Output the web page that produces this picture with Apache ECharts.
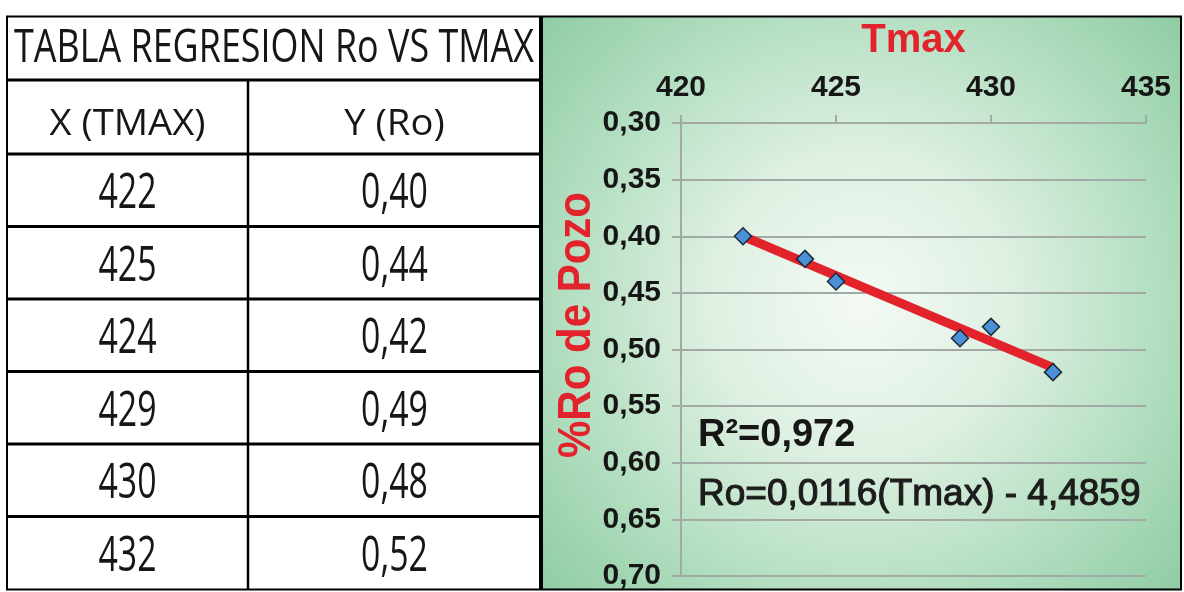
<!DOCTYPE html>
<html>
<head>
<meta charset="utf-8">
<title>Tabla regresion Ro vs Tmax</title>
<script src="https://cdn.jsdelivr.net/npm/echarts@6/dist/echarts.min.js"></script>
<style>
    html, body { margin: 0; padding: 0; background: #fff; }
    #main { width: 1184px; height: 592px; }
</style>
</head>
<body>
<div id="main"></div>
<script>
    // datos de la tabla y del grafico
    var tableTitle = 'TABLA REGRESION Ro VS TMAX';
    var colHeaders = ['X (TMAX)', 'Y (Ro)'];
    var tmax = [422, 425, 424, 429, 430, 432];
    var ro = [0.40, 0.44, 0.42, 0.49, 0.48, 0.52];
    // extremos de la recta de regresion
    var trendTmax = [422, 432];
    var trendRo = [0.400, 0.516];
    var r2Text = 'R²=0,972';
    var eqText = 'Ro=0,0116(Tmax) - 4,4859';
    var xTitle = 'Tmax';
    var yTitle = '%Ro de Pozo';

    function coma(v) {
        return v.toFixed(2).replace('.', ',');
    }

    // ancho real del texto -> factor para comprimirlo como en la imagen
    var ctx = document.createElement('canvas').getContext('2d');
    function squeeze(text, font, w) {
        ctx.font = font;
        return w / ctx.measureText(text).width;
    }

    var red = '#e3232b';
    var ink = '#161616';
    var tblFam = '"Open Sans"';
    var axFam = '"Liberation Sans", Arial, sans-serif';

    // geometria de la tabla
    var tL = 7, tR = 541, tMid = 248, tTop = 16, tBot = 589;
    var titleB = 80, headB = 154, rowH = 72.5;

    var g = [];

    // fondo verde del grafico
    g.push({
        type: 'rect', z: -10, silent: true,
        shape: {x: 541, y: 17, width: 640, height: 572},
        style: {
            fill: new echarts.graphic.RadialGradient(0.5, 0.5, 0.75, [
                {offset: 0, color: '#f4faf5'},
                {offset: 0.35, color: '#def0e2'},
                {offset: 0.75, color: '#acdbbb'},
                {offset: 1, color: '#90cca3'}
            ])
        }
    });

    // marco exterior
    g.push({
        type: 'rect', z: 50, silent: true,
        shape: {x: 7, y: 16.5, width: 1174, height: 573},
        style: {fill: null, stroke: '#000', lineWidth: 2}
    });

    // lineas de la tabla
    var hl = [titleB, headB];
    for (var k = 1; k < tmax.length; k++) hl.push(headB + rowH * k);
    hl.forEach(function (y) {
        g.push({type: 'line', z: 50, silent: true,
            shape: {x1: tL, y1: y, x2: tR, y2: y},
            style: {stroke: '#000', lineWidth: 3}});
    });
    g.push({type: 'line', z: 50, silent: true,
        shape: {x1: tMid, y1: titleB, x2: tMid, y2: tBot},
        style: {stroke: '#000', lineWidth: 2.5}});
    g.push({type: 'line', z: 50, silent: true,
        shape: {x1: tR, y1: tTop, x2: tR, y2: tBot},
        style: {stroke: '#000', lineWidth: 4}});

    // textos de la tabla
    function cell(text, x, y, size, sx) {
        g.push({
            type: 'text', z: 60, silent: true, x: x, y: y, scaleX: sx,
            style: {text: text, fontSize: size, fontFamily: tblFam, fill: ink,
                align: 'center', verticalAlign: 'middle'}
        });
    }
    var titleSx = squeeze(tableTitle, '45px ' + tblFam, 520);
    var headSx = squeeze(colHeaders[0], '36px ' + tblFam, 156);
    var dataSx = squeeze('422', '49px ' + tblFam, 58);
    var c1 = (tL + tMid) / 2, c2 = (tMid + tR) / 2;

    cell(tableTitle, (tL + tR) / 2, 49, 45, titleSx);
    cell(colHeaders[0], c1, 125, 36, headSx);
    cell(colHeaders[1], c2, 125, 36, headSx);
    tmax.forEach(function (x, i) {
        var y = headB + rowH * (i + 0.5) + 4;
        cell(String(x), c1, y, 49, dataSx);
        cell(coma(ro[i]), c2, y, 49, dataSx);
    });

    // titulo eje Y (vertical)
    g.push({
        type: 'text', z: 60, silent: true, x: 577, y: 325,
        rotation: Math.PI / 2,
        scaleX: squeeze(yTitle, 'bold 46px "Liberation Sans"', 266),
        style: {text: yTitle, fontSize: 46, fontWeight: 'bold', fontFamily: axFam,
            fill: red, align: 'center', verticalAlign: 'middle'}
    });

    // R2 y ecuacion
    g.push({
        type: 'text', z: 60, silent: true, x: 698, y: 436,
        style: {text: r2Text, fontSize: 38, fontWeight: 'bold', fontFamily: axFam,
            fill: ink, align: 'left', verticalAlign: 'middle'}
    });
    g.push({
        type: 'text', z: 60, silent: true, x: 698, y: 495,
        style: {text: eqText, fontSize: 37, fontFamily: axFam,
            fill: '#1c1c1c', stroke: '#1c1c1c', lineWidth: 1.1,
            align: 'left', verticalAlign: 'middle'}
    });

    var gridCol = '#a3aaa6';
    var myChart = echarts.init(document.getElementById('main'));
    var option = {
        backgroundColor: '#ffffff',
        animation: false,
        grid: {left: 681, top: 123, width: 465, height: 453},
        xAxis: {
            type: 'value', position: 'top',
            min: 420, max: 435, interval: 5,
            name: xTitle, nameLocation: 'middle', nameGap: 62,
            nameTextStyle: {color: red, fontSize: 40, fontWeight: 'bold', fontFamily: axFam},
            axisLine: {show: true, onZero: false, lineStyle: {color: gridCol, width: 2}},
            axisTick: {show: true, length: 8, lineStyle: {color: gridCol, width: 2}},
            axisLabel: {margin: 20, color: ink, fontSize: 30, fontWeight: 'bold', fontFamily: axFam},
            splitLine: {show: false}
        },
        yAxis: {
            type: 'value', inverse: true,
            min: 0.30, max: 0.70, interval: 0.05,
            axisLine: {show: true, onZero: false, lineStyle: {color: gridCol, width: 2}},
            axisTick: {show: true, length: 9, lineStyle: {color: gridCol, width: 2}},
            axisLabel: {
                margin: 20, color: ink, fontSize: 30, fontWeight: 'bold', fontFamily: axFam,
                formatter: function (v) { return coma(v); }
            },
            splitLine: {show: true, lineStyle: {color: gridCol, width: 2}}
        },
        series: [
            {
                name: 'Regresion', type: 'line', z: 2,
                data: trendTmax.map(function (x, i) { return [x, trendRo[i]]; }),
                symbol: 'none',
                lineStyle: {color: red, width: 9}
            },
            {
                name: 'Ro vs Tmax', type: 'scatter', z: 3,
                data: tmax.map(function (x, i) { return [x, ro[i]]; }),
                symbol: 'diamond', symbolSize: 17,
                itemStyle: {color: '#4c90d8', borderColor: '#1d2a38', borderWidth: 1.5, opacity: 1}
            }
        ],
        graphic: g
    };
    myChart.setOption(option);
</script>
</body>
</html>
